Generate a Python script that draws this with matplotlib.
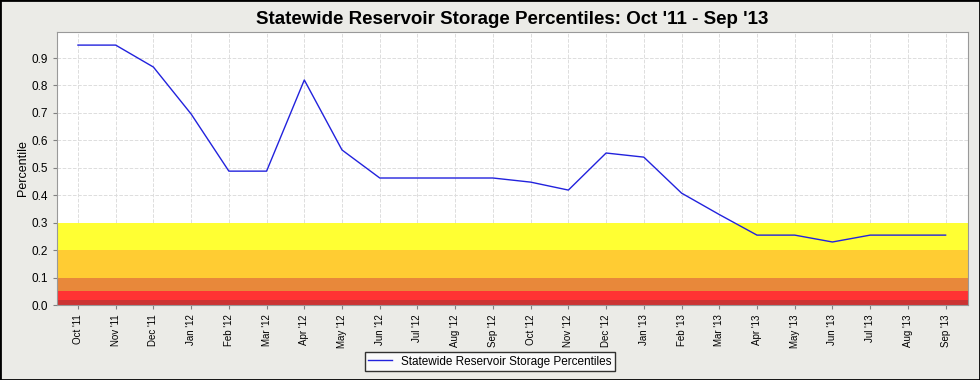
import matplotlib.pyplot as plt
from matplotlib.patches import Rectangle

plt.rcParams['font.family'] = ['Liberation Sans', 'DejaVu Sans']

months = ["Oct '11", "Nov '11", "Dec '11", "Jan '12", "Feb '12", "Mar '12",
          "Apr '12", "May '12", "Jun '12", "Jul '12", "Aug '12", "Sep '12",
          "Oct '12", "Nov '12", "Dec '12", "Jan '13", "Feb '13", "Mar '13",
          "Apr '13", "May '13", "Jun '13", "Jul '13", "Aug '13", "Sep '13"]
percentile = [0.947, 0.947, 0.867, 0.696, 0.488, 0.488,
              0.820, 0.565, 0.463, 0.463, 0.463, 0.463,
              0.448, 0.419, 0.554, 0.539, 0.408, 0.330,
              0.255, 0.255, 0.230, 0.255, 0.255, 0.255]

# drought bands (lower, upper, colour)
band_edges = [0.0, 0.02, 0.05, 0.10, 0.20, 0.30]
band_colors = ["#cc3333", "#ff3333", "#e8883a", "#ffcc33", "#ffff33"]

fig = plt.figure(figsize=(9.8, 3.8), dpi=100, facecolor="#ebebe7")
fig.patches.append(Rectangle((0, 0), 1, 1, transform=fig.transFigure,
                             fill=False, edgecolor="black", linewidth=2))
ax = fig.add_axes([0.058, 0.197, 0.93, 0.719])
ax.set_facecolor("white")

for lo, hi, c in zip(band_edges[:-1], band_edges[1:], band_colors):
    ax.axhspan(lo, hi, color=c, linewidth=0, zorder=1)

x = list(range(len(months)))
ax.plot(x, percentile, color="#2222dd", linewidth=1.0, zorder=3,
        label="Statewide Reservoir Storage Percentiles")

ax.set_xlim(-0.56, len(months) - 1 + 0.6)
ax.set_ylim(0, 0.995)
ax.set_xticks(x)
ax.set_xticklabels(months, rotation=90, fontsize=7)
ax.set_yticks([i / 10 for i in range(10)])
ax.set_yticklabels([f"{i / 10:.1f}" for i in range(10)], fontsize=8.5)
ax.tick_params(length=3, color="gray")
ax.grid(True, color="#dddddd", linestyle="--", linewidth=0.7, zorder=0)
ax.set_axisbelow(True)
for s in ax.spines.values():
    s.set_color("#999999")
ax.set_ylabel("Percentile", fontsize=9, labelpad=2)

ax.set_title("Statewide Reservoir Storage Percentiles: Oct '11 - Sep '13",
             fontsize=13.5, fontweight="bold", pad=6)

fig.legend(loc="lower center", bbox_to_anchor=(0.5, 0.008), fontsize=8.5,
           frameon=True, fancybox=False, edgecolor="black",
           handlelength=2, borderpad=0.3)

fig.savefig("out.png", dpi=100, facecolor=fig.get_facecolor())
